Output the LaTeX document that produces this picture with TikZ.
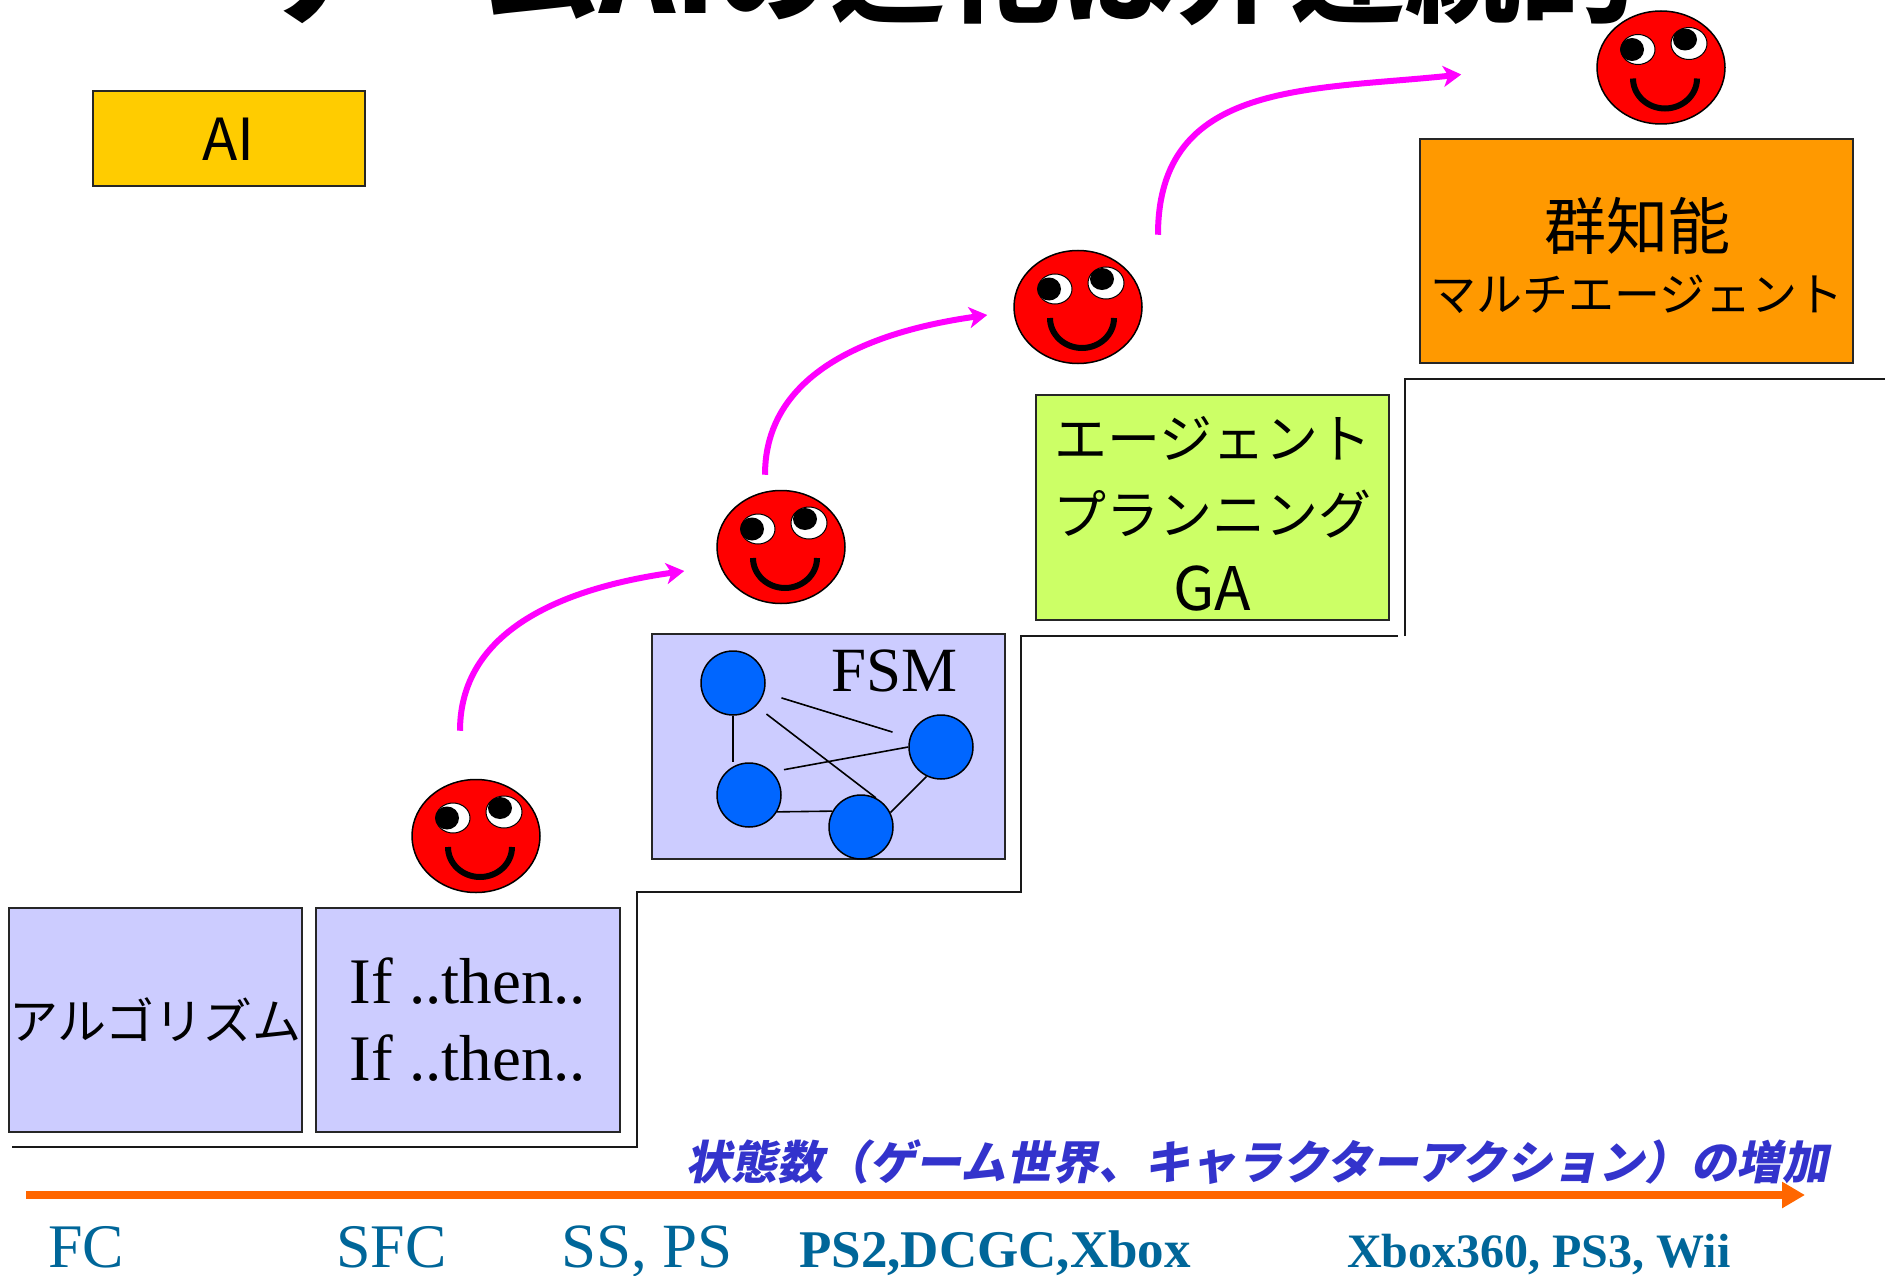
\documentclass[tikz,border=0pt]{standalone}
\usepackage{fontspec}
\setmainfont{Liberation Serif}
\newfontfamily\jpfont{Noto Sans CJK JP}
\newfontfamily\jpslant[FakeSlant=0.2]{Noto Sans CJK JP}
\usetikzlibrary{shapes.geometric,arrows.meta}

\definecolor{aiyellow}{HTML}{FFCC00}
\definecolor{swarmorange}{HTML}{FF9900}
\definecolor{agentgreen}{HTML}{CCFF66}
\definecolor{lilac}{HTML}{CCCCFF}
\definecolor{stateblue}{HTML}{0066FF}
\definecolor{facered}{HTML}{FF0000}
\definecolor{hopmagenta}{HTML}{FF00FF}
\definecolor{axisorange}{HTML}{FF6600}
\definecolor{captionblue}{HTML}{3333CC}
\definecolor{consoleteal}{HTML}{006699}

\newcommand{\fsz}[2]{\fontsize{#1}{#2}\selectfont}

\begin{document}
\begin{tikzpicture}
[
 x=1pt, y=-1pt,
 inner sep=0pt,
 BOX/.style={rectangle, draw=black!85, line width=2pt},
 LILACBOX/.style={BOX, fill=lilac},
 STATE/.style={circle, draw=black, fill=stateblue, line width=1.5pt, minimum size=64pt},
 LINK/.style={line width=1.6pt},
 FACE/.style={ellipse, draw=black, fill=facered, line width=1.5pt,
   minimum width=128pt, minimum height=113pt,
   path picture={
     \begin{scope}[shift={(path picture bounding box.center)}]
       \draw[fill=white, line width=1pt] (-23,-18) ellipse [x radius=17, y radius=15];
       \fill[black] (-29,-18) ellipse [x radius=12, y radius=11.5];
       \draw[fill=white, line width=1pt] (28,-24) ellipse [x radius=18, y radius=16];
       \fill[black] (24,-28) ellipse [x radius=12, y radius=11];
       \draw[line width=6pt] (-28,11) arc [start angle=180, end angle=0, x radius=32, y radius=30];
     \end{scope}}},
 HOP/.style={draw=hopmagenta, line width=6pt, -{Stealth[length=18pt,width=21pt,inset=5pt]}},
 STAIR/.style={line width=2.8pt, draw=black!90},
 CONSOLE/.style={anchor=base west, text=consoleteal},
 ]
%
\useasboundingbox (0,0) rectangle (1885,1276);
%
\node[anchor=base, font=\jpfont\bfseries\fsz{115}{115}] (title) at (947,14) {ゲームAIの進化は非連続的};
%
\draw[STAIR] (12,1147) -- (637,1147) -- (637,892) -- (1021,892) -- (1021,636) -- (1398,636);
\draw[STAIR] (1405,636) -- (1405,379) -- (1885,379);
%
\node[BOX, fill=aiyellow, minimum width=272pt, minimum height=95pt,
      font=\jpfont\fsz{58}{58}] (ai) at (228.5,139) {AI};
%
\node[LILACBOX, minimum width=289pt, minimum height=224pt,
      font=\jpfont\fsz{49}{49}] (algo) at (155.5,1019.5) {アルゴリズム};
\node[LILACBOX, minimum width=304pt, minimum height=224pt, align=center,
      font=\fsz{65}{77}] (rule) at (468,1019.5) {If ..then..\\If ..then..};
%
\node[LILACBOX, minimum width=353pt, minimum height=225pt] (fsm) at (828.5,746.5) {};
\node[anchor=base west, font=\fsz{63}{63}] (fsmlabel) at (831,691) {FSM};
\node[STATE] (s1) at (733,683) {};
\node[STATE] (s2) at (941,747) {};
\node[STATE] (s3) at (749,795) {};
\node[STATE] (s4) at (861,827) {};
\draw[LINK] (s1.south) -- (s1.south |- s3.north);
\draw[LINK, shorten <=18pt, shorten >=18pt] (s1) -- (s2);
\draw[LINK, shorten <=13pt] (s1.-45) -- (s4.63);
\draw[LINK, shorten <=12pt] (s3.45) -- (s2.west);
\draw[LINK] (s3.-31) -- (s4.151);
\draw[LINK] (s4.26) -- (s2.-116);
%
\node[BOX, fill=agentgreen, minimum width=353pt, minimum height=225pt] (agent) at (1212.5,507) {};
\node[align=center, font=\jpfont\fsz{53}{76}] (agenttext) at (1212.5,514)
     {エージェント\\プランニング\\{\fsz{60}{76}GA}};
%
\node[BOX, fill=swarmorange, minimum width=433pt, minimum height=224pt] (swarm) at (1636.5,251) {};
\node[font=\jpfont\fsz{62}{62}] (swarmtop) at (1637,226) {群知能};
\node[font=\jpfont\fsz{46}{46}] (swarmsub) at (1637,294) {マルチエージェント};
%
\node[FACE] (f1) at (476,836) {};
\node[FACE] (f2) at (781,547) {};
\node[FACE] (f3) at (1078,307) {};
\node[FACE] (f4) at (1661,67.5) {};
%
\draw[HOP] ([shift={(-16,-48)}]f1.north) to[out=90, in=188] ([shift={(-32,24)}]f2.west);
\draw[HOP] ([shift={(-16,-15)}]f2.north) to[out=90, in=188] ([shift={(-26,8)}]f3.west);
\draw[HOP] ([shift={(80,-15)}]f3.north) to[out=90, in=186, looseness=1.15] ([shift={(-135,7)}]f4.west);
%
\coordinate (axisstart) at (26,1195);
\coordinate (axisend) at (1805,1195);
\draw[axisorange, line width=8pt, -{Triangle[length=23pt,width=25pt]}] (axisstart) -- (axisend);
\node[font=\jpslant\bfseries\fsz{46}{46}, text=captionblue] (growth) at (1257,1162)
     {状態数（ゲーム世界、キャラクターアクション）の増加};
%
\node[CONSOLE, font=\fsz{62}{62}] (fc)   at (48,1267)  {FC};
\node[CONSOLE, font=\fsz{62}{62}] (sfc)  at (336,1267) {SFC};
\node[CONSOLE, font=\fsz{63}{63}] (ss)   at (561,1267) {SS, PS};
\node[CONSOLE, font=\bfseries\fsz{53}{53}] (ps2) at (799,1267) {PS2,DCGC,Xbox};
\node[CONSOLE, font=\bfseries\fsz{48}{48}] (x360) at (1347,1267) {Xbox360, PS3, Wii};
%
\end{tikzpicture}
\end{document}
